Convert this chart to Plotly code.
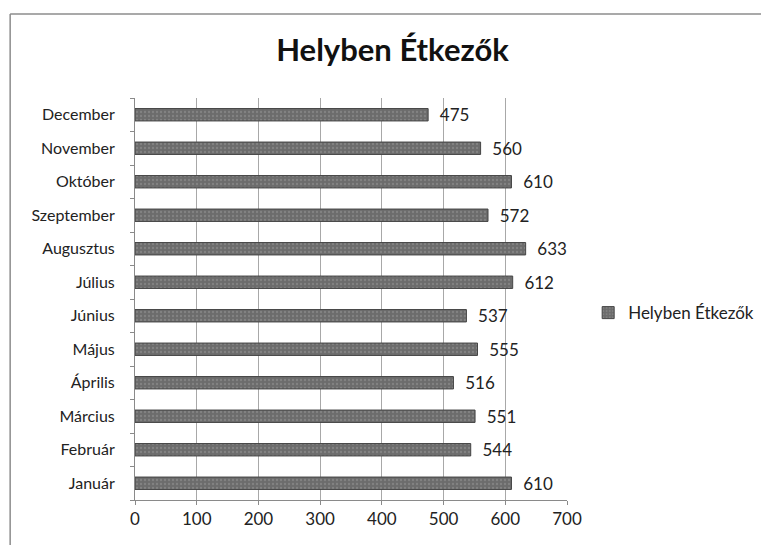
import plotly.graph_objects as go

TITLE = "Helyben Étkezők"
SERIES = "Helyben Étkezők"
MONTHS = ["Január", "Február", "Március", "Április", "Május", "Június",
          "Július", "Augusztus", "Szeptember", "Október", "November", "December"]
VALUES = [610, 544, 551, 516, 555, 537, 612, 633, 572, 610, 560, 475]
X_TICKS = [0, 100, 200, 300, 400, 500, 600, 700]

FONT = "Lato, Calibri, sans-serif"
TEXT = "#222222"
BAR = "#6c6c6c"
GRID = "#a8a8a8"

fig = go.Figure(go.Bar(
    x=VALUES,
    y=MONTHS,
    orientation="h",
    name=SERIES,
    marker=dict(color=BAR, line=dict(color="#444444", width=1),
                pattern=dict(shape=".", fgcolor="#9a9a9a", size=4, solidity=0.25)),
    texttemplate="  %{x}",
    textposition="outside",
    constraintext="none",
    textfont=dict(size=17, color=TEXT, family=FONT),
    cliponaxis=False,
    showlegend=True,
))

# the page body adds an 8px offset, so margins are shifted to compensate
fig.update_layout(
    width=769, height=545,
    paper_bgcolor="white", plot_bgcolor="white",
    font=dict(family=FONT, color=TEXT, size=16),
    margin=dict(l=127, r=210, t=90, b=53),
    bargap=0.63,
    title=dict(text=f"<b>{TITLE}</b>", x=0.5, xanchor="center", y=0.923, yanchor="middle",
               font=dict(size=31, color="#111111", family=FONT)),
    legend=dict(x=1.049, y=0.465, xanchor="left", yanchor="middle",
                font=dict(size=17, color=TEXT, family=FONT), bgcolor="rgba(0,0,0,0)"),
)

fig.update_xaxes(
    range=[0, 700], tickvals=X_TICKS, showgrid=True, gridcolor=GRID, gridwidth=1,
    showline=True, linecolor="#8a8a8a", ticks="outside", ticklen=4, tickcolor="#8a8a8a",
    zeroline=False, tickfont=dict(size=17, color=TEXT), automargin=False,
)
fig.update_yaxes(
    categoryorder="array", categoryarray=MONTHS, showline=True, linecolor="#8a8a8a",
    ticks="outside", ticklen=4, tickcolor="#8a8a8a", tickson="boundaries",
    ticklabelstandoff=16, tickfont=dict(size=16, color=TEXT), showgrid=False,
    automargin=False,
)

# outer chart frame: only the left and top edges show in the scan
frame = dict(color="#8c8c8c", width=1.5)
fig.add_shape(type="line", xref="paper", yref="paper",
              x0=-0.289, x1=-0.289, y0=-0.6, y1=1.209, line=frame, layer="below")
fig.add_shape(type="line", xref="paper", yref="paper",
              x0=-0.289, x1=2.5, y0=1.209, y1=1.209, line=frame, layer="below")

fig.write_html("out.html")
